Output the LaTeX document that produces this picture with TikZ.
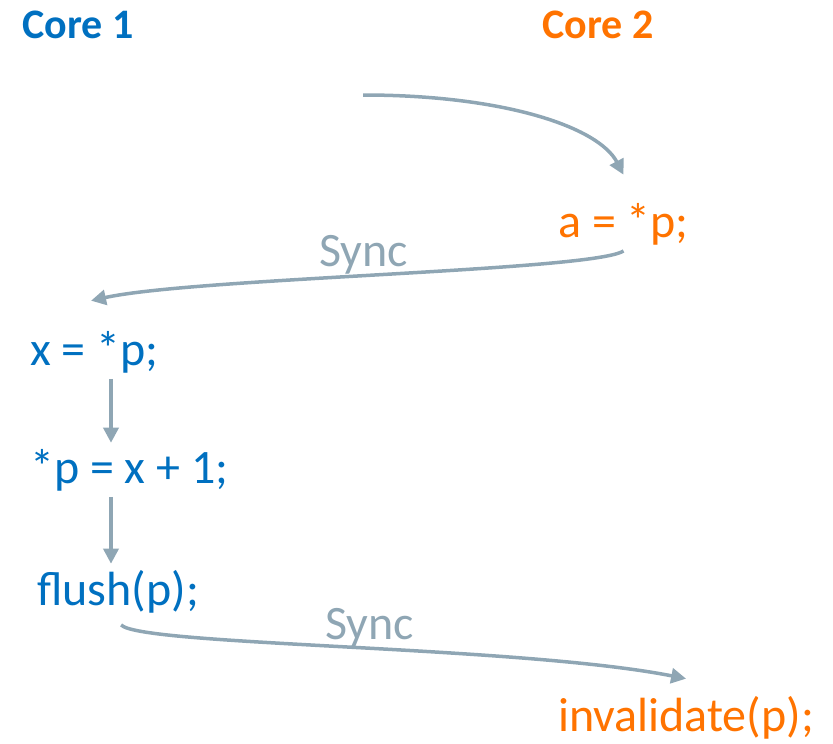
\documentclass[tikz,border=0pt]{standalone}
\usepackage{fontspec}
\setmainfont{Carlito}
\usetikzlibrary{arrows.meta}
\definecolor{coreblue}{RGB}{0,112,192}
\definecolor{coreorange}{RGB}{255,115,0}
\definecolor{syncgray}{RGB}{143,166,180}

\begin{document}
\begin{tikzpicture}[x=1bp, y=-1bp,
  code/.style={font=\fontsize{48bp}{56bp}\selectfont, inner sep=6bp, anchor=base west},
  head/.style={font=\fontsize{42bp}{50bp}\selectfont\bfseries, inner sep=0pt, anchor=base west},
  arr/.style={-{Triangle[length=15bp, width=15bp]}, line width=3.5bp, syncgray},
  sync/.style={font=\fontsize{48bp}{56bp}\selectfont, text=syncgray, inner sep=0pt}]
\useasboundingbox (0,0) rectangle (833,744);
% Headings
\node[head, text=coreblue] (core1) at (22,39) {Core 1};
\node[head, text=coreorange] (core2) at (542,39) {Core 2};
% Core 2
\coordinate (src) at (363,95);
\node[code, text=coreorange] (ald) at (552,237) {a = *p;};
\node[code, text=coreorange] (inv) at (552,731) {invalidate(p);};
% Core 1
\node[code, text=coreblue] (xld) at (24,365) {x = *p;};
\node[code, text=coreblue] (xst) at (24,483) {*p = x + 1;};
\node[code, text=coreblue] (fl) at (31,605) {flush(p);};
% Arrows
\draw[arr] (src) .. controls +(140,0) and +(-25,-48) .. ([yshift=22bp]ald.north);
\draw[arr] (ald.south) .. controls +(-30,20) and +(103,-23) .. ([shift={(67,-24)}]xld.north west)
  node[sync, pos=0.53, above] {Sync};
\draw[arr] (xld.south -| 111,0) -- (xst.north -| 111,0);
\draw[arr] (xst.south -| 111,0) -- (fl.north -| 111,0);
\draw[arr] ([shift={(3,6)}]fl.south) .. controls +(20,21) and +(-167,-33) .. ([yshift=11bp]inv.north)
  node[sync, pos=0.53, above] {Sync};
\end{tikzpicture}
\end{document}
